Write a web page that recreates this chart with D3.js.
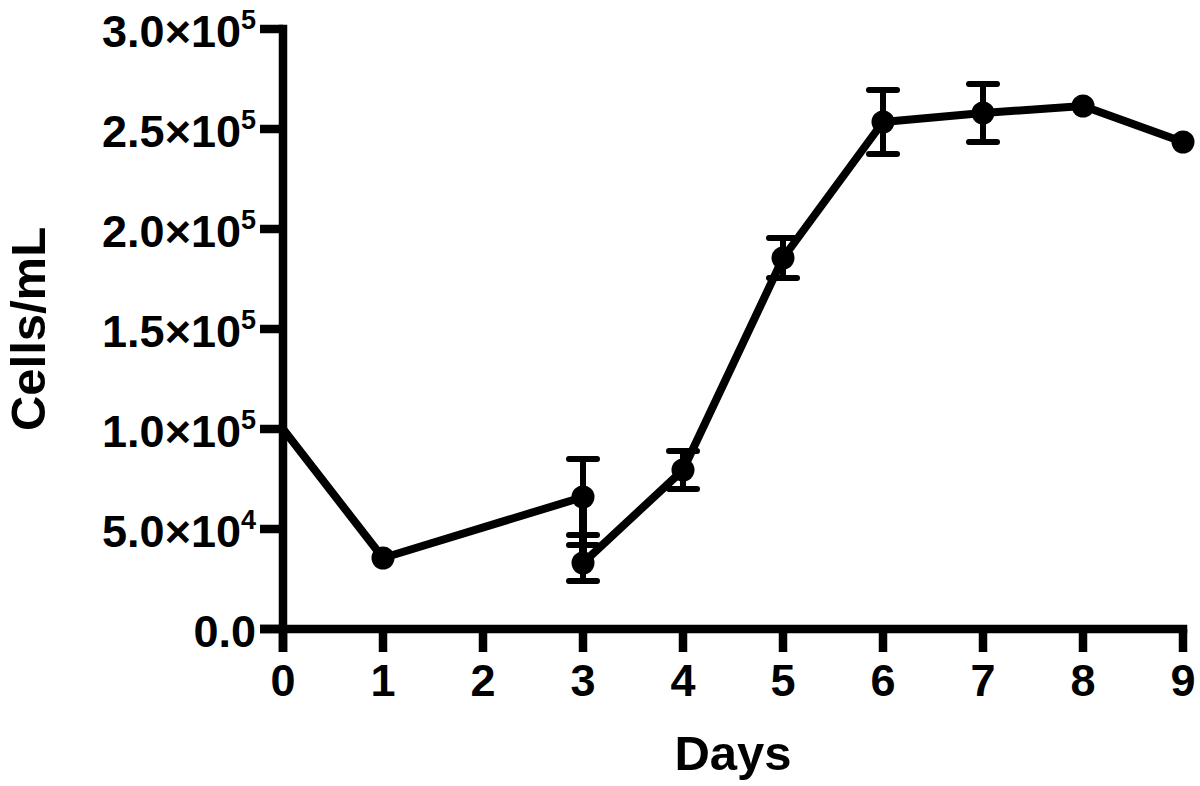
<!DOCTYPE html>
<html>
<head>
  <meta charset="utf-8">
  <title>Cells/mL over days</title>
  <style>
    body { margin: 0; background: #fff; }
    svg { display: block; }
    text { font-family: Arial, 'Liberation Sans', sans-serif; font-weight: bold; fill: #000; }
  </style>
</head>
<body>
  <div id="chart"></div>
  <script src="https://d3js.org/d3.v7.min.js"></script>
  <script>
    // values
    const days = [0, 1, 3, 3, 4, 5, 6, 7, 8, 9];
    const cells = [100000, 35500, 66000, 33000, 79500, 185500, 253500, 258000, 261500, 243500];
    const sd = [0, 0, 19000, 9000, 9500, 10000, 16000, 14500, 0, 0];
    const hasMarker = [false, true, true, true, true, true, true, true, true, true];

    const xTicks = [0, 1, 2, 3, 4, 5, 6, 7, 8, 9];
    const yTicks = [0, 50000, 100000, 150000, 200000, 250000, 300000];
    const yTickMant = ['0.0', '5.0', '1.0', '1.5', '2.0', '2.5', '3.0'];
    const yTickExp = ['', '4', '5', '5', '5', '5', '5'];

    const width = 1200;
    const height = 786;

    const x = d3.scaleLinear().domain([0, 9]).range([283, 1183]);
    const y = d3.scaleLinear().domain([0, 300000]).range([629, 29]);

    const svg = d3.select('#chart')
      .append('svg')
      .attr('width', width)
      .attr('height', height);

    const points = days.map((d, i) => ({ day: d, v: cells[i], sd: sd[i], marker: hasMarker[i] }));

    // axes
    const axisW = 8.5;
    const tickLen = 23;

    svg.append('line')
      .attr('x1', x(0)).attr('x2', x(0))
      .attr('y1', y(300000) - axisW / 2).attr('y2', y(0) + tickLen)
      .attr('stroke', '#000').attr('stroke-width', axisW);

    svg.append('line')
      .attr('x1', x(0) - tickLen).attr('x2', x(9) + axisW / 2)
      .attr('y1', y(0)).attr('y2', y(0))
      .attr('stroke', '#000').attr('stroke-width', axisW);

    svg.append('g')
      .selectAll('line')
      .data(yTicks)
      .enter()
      .append('line')
      .attr('x1', x(0) - tickLen).attr('x2', x(0))
      .attr('y1', d => y(d)).attr('y2', d => y(d))
      .attr('stroke', '#000').attr('stroke-width', axisW);

    svg.append('g')
      .selectAll('line')
      .data(xTicks)
      .enter()
      .append('line')
      .attr('x1', d => x(d)).attr('x2', d => x(d))
      .attr('y1', y(0)).attr('y2', y(0) + tickLen)
      .attr('stroke', '#000').attr('stroke-width', axisW);

    // tick labels
    svg.append('g')
      .selectAll('text')
      .data(xTicks)
      .enter()
      .append('text')
      .attr('x', d => x(d))
      .attr('y', 696)
      .attr('text-anchor', 'middle')
      .style('font-size', '45px')
      .text(d => d);

    const yLab = svg.append('g')
      .selectAll('text')
      .data(yTicks)
      .enter()
      .append('text')
      .attr('x', 256)
      .attr('y', d => y(d) + 18)
      .attr('text-anchor', 'end')
      .style('font-size', '45px');

    yLab.append('tspan')
      .text((d, i) => yTickMant[i] + (yTickExp[i] ? '\u00d710' : ''));

    yLab.filter((d, i) => yTickExp[i] !== '')
      .append('tspan')
      .attr('dy', -18)
      .style('font-size', '27px')
      .text(d => yTickExp[yTicks.indexOf(d)]);

    // axis titles
    svg.append('text')
      .attr('x', (x(0) + x(9)) / 2)
      .attr('y', 770)
      .attr('text-anchor', 'middle')
      .style('font-size', '49px')
      .text('Days');

    svg.append('text')
      .attr('transform', `translate(45, ${(y(0) + y(300000)) / 2}) rotate(-90)`)
      .attr('text-anchor', 'middle')
      .style('font-size', '49px')
      .text('Cells/mL');

    // error bars
    const bars = points.filter(p => p.sd > 0);
    const capW = 28;

    const eb = svg.append('g')
      .attr('stroke', '#000')
      .attr('stroke-width', 6)
      .attr('stroke-linecap', 'round');

    eb.selectAll('line.stem')
      .data(bars)
      .enter()
      .append('line')
      .attr('class', 'stem')
      .attr('x1', d => x(d.day)).attr('x2', d => x(d.day))
      .attr('y1', d => y(d.v + d.sd)).attr('y2', d => y(d.v - d.sd));

    eb.selectAll('line.capTop')
      .data(bars)
      .enter()
      .append('line')
      .attr('class', 'capTop')
      .attr('x1', d => x(d.day) - capW / 2).attr('x2', d => x(d.day) + capW / 2)
      .attr('y1', d => y(d.v + d.sd)).attr('y2', d => y(d.v + d.sd));

    eb.selectAll('line.capBot')
      .data(bars)
      .enter()
      .append('line')
      .attr('class', 'capBot')
      .attr('x1', d => x(d.day) - capW / 2).attr('x2', d => x(d.day) + capW / 2)
      .attr('y1', d => y(d.v - d.sd)).attr('y2', d => y(d.v - d.sd));

    // connecting line
    const line = d3.line()
      .x(d => x(d.day))
      .y(d => y(d.v));

    svg.append('path')
      .datum(points)
      .attr('d', line)
      .attr('fill', 'none')
      .attr('stroke', '#000')
      .attr('stroke-width', 8)
      .attr('stroke-linejoin', 'round');

    // markers
    svg.append('g')
      .selectAll('circle')
      .data(points.filter(p => p.marker))
      .enter()
      .append('circle')
      .attr('cx', d => x(d.day))
      .attr('cy', d => y(d.v))
      .attr('r', 11.5)
      .attr('fill', '#000');
  </script>
</body>
</html>
